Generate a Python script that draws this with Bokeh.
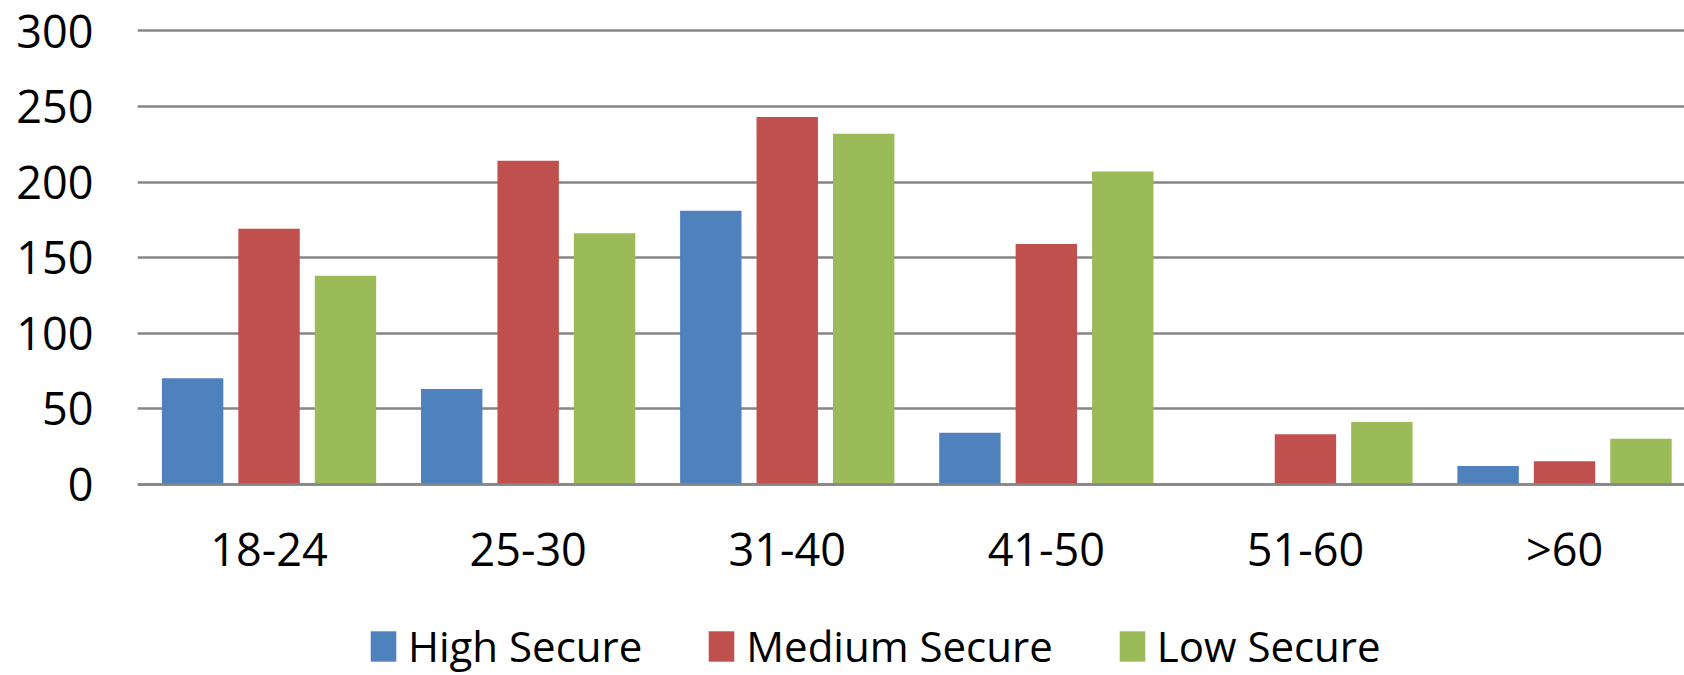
from bokeh.plotting import figure
from bokeh.models import (ColumnDataSource, Range1d, FixedTicker, Legend, LegendItem)
from bokeh.embed import file_html
from bokeh.resources import INLINE

categories = ["18-24", "25-30", "31-40", "41-50", "51-60", ">60"]
high_secure = [70, 63, 181, 34, 0, 12]
medium_secure = [169, 214, 243, 159, 33, 15]
low_secure = [138, 166, 232, 207, 41, 30]
y_ticks = [0, 50, 100, 150, 200, 250, 300]

series_names = ["High Secure", "Medium Secure", "Low Secure"]
colors = ["#4F81BD", "#C0504D", "#9BBB59"]
offsets = [-0.295, 0.0, 0.295]

FONT = "Open Sans"

centers = [i + 0.5 for i in range(len(categories))]

p = figure(width=1684, height=675, output_backend="svg", toolbar_location=None,
           x_range=Range1d(-0.0077, 5.963), y_range=Range1d(-126.8, 306.95),
           min_border_left=137, min_border_right=0, min_border_top=20,
           min_border_bottom=0)
p.outline_line_color = None
p.background_fill_color = "white"
p.border_fill_color = "white"

items = []
for name, vals, col, off in zip(series_names, [high_secure, medium_secure, low_secure], colors, offsets):
    src = ColumnDataSource(dict(x=[c + off for c in centers], top=vals))
    r = p.vbar(x="x", top="top", bottom=0, width=0.237, source=src,
               fill_color=col, line_color=None)
    items.append(LegendItem(label=name, renderers=[r]))

# x axis sits at value 0, inside the frame
p.xaxis.fixed_location = 0
p.xaxis.ticker = FixedTicker(ticks=centers)
p.xaxis.major_label_overrides = {c: lab for c, lab in zip(centers, categories)}
p.xaxis.major_tick_out = 0
p.xaxis.major_tick_in = 0
p.xaxis.minor_tick_line_color = None
p.xaxis.axis_line_color = "#868686"
p.xaxis.axis_line_width = 2.5
p.xaxis.major_label_text_font = FONT
p.xaxis.major_label_text_font_size = "45px"
p.xaxis.major_label_text_color = "black"
p.xaxis.major_label_standoff = 34

p.yaxis.ticker = FixedTicker(ticks=y_ticks)
p.yaxis.major_tick_out = 0
p.yaxis.major_tick_in = 0
p.yaxis.minor_tick_line_color = None
p.yaxis.axis_line_color = None
p.yaxis.major_label_text_font = FONT
p.yaxis.major_label_text_font_size = "45px"
p.yaxis.major_label_text_color = "black"
p.yaxis.major_label_standoff = 44

p.xgrid.grid_line_color = None
p.ygrid.ticker = FixedTicker(ticks=y_ticks)
p.ygrid.grid_line_color = "#868686"
p.ygrid.grid_line_width = 2.5

legend = Legend(items=items, location=(230, 1), orientation="horizontal",
                glyph_width=32, glyph_height=38, label_standoff=9, spacing=63,
                padding=0, margin=0, border_line_color=None,
                background_fill_alpha=0,
                label_text_font=FONT, label_text_font_size="42px",
                label_text_color="black")
p.add_layout(legend)

open("out.html", "w").write(file_html(p, INLINE))
